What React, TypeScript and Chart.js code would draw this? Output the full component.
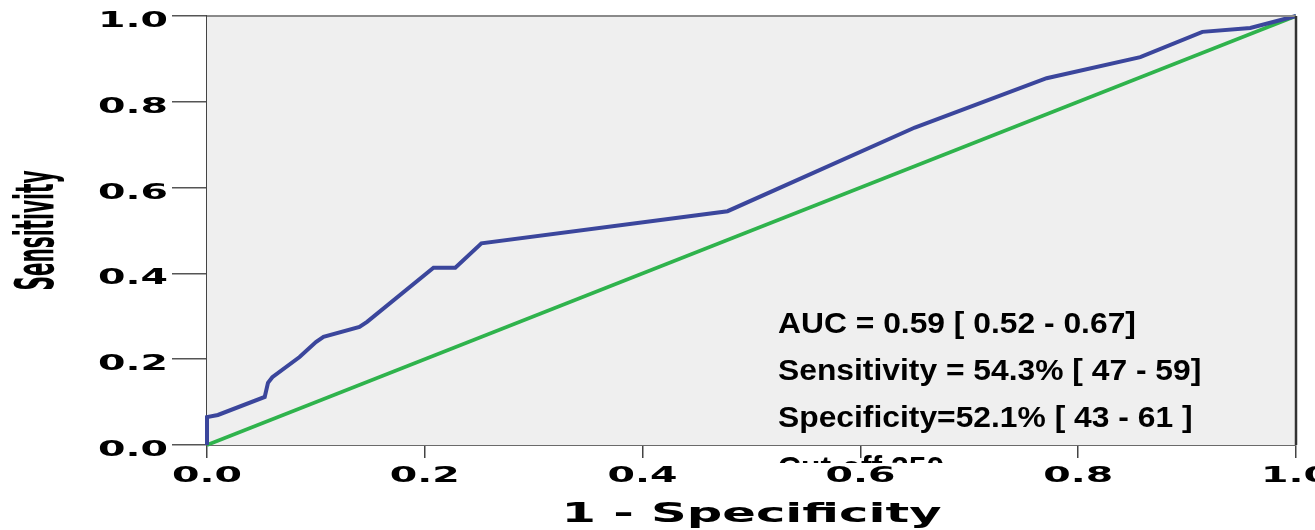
import React, { useEffect, useRef } from 'react';
import { Chart, registerables } from 'chart.js';

Chart.register(...registerables);

// ROC curve (1 - specificity, sensitivity)
const fpr = [0, 0, 0.01, 0.053, 0.056, 0.06, 0.085, 0.1, 0.107, 0.14, 0.147, 0.208, 0.228, 0.252, 0.478, 0.65, 0.771, 0.857, 0.914, 0.958, 1];
const tpr = [0, 0.065, 0.07, 0.112, 0.145, 0.158, 0.205, 0.24, 0.252, 0.275, 0.287, 0.413, 0.413, 0.47, 0.545, 0.74, 0.855, 0.904, 0.963, 0.972, 1];

// Reference (chance) line
const diagX = [0, 1];
const diagY = [0, 1];

const tickValues = [0, 0.2, 0.4, 0.6, 0.8, 1.0];
const tickLabels = ['0.0', '0.2', '0.4', '0.6', '0.8', '1.0'];

const xTitle = '1 - Specificity';
const yTitle = 'Sensitivity';

const statLines = [
  'AUC = 0.59 [ 0.52 - 0.67]',
  'Sensitivity = 54.3% [ 47 - 59]',
  'Specificity=52.1% [ 43 - 61 ]',
  'Cut-off 250',
];

const TICK_FONT = 'bold 22px "DejaVu Sans"';
const TITLE_FONT = 'bold 27px "DejaVu Sans"';
const YTITLE_FONT = 'bold 54px "Liberation Sans Narrow", "DejaVu Sans Condensed", "Liberation Sans"';
const STAT_FONT = 'bold 30px "Liberation Sans", Arial, sans-serif';

function drawStretched(
  ctx: CanvasRenderingContext2D,
  text: string,
  x: number,
  y: number,
  sx: number,
  align: CanvasTextAlign
) {
  ctx.save();
  ctx.translate(x, y);
  ctx.scale(sx, 1);
  ctx.textAlign = align;
  ctx.textBaseline = 'alphabetic';
  ctx.fillText(text, 0, 0);
  ctx.restore();
}

export default function App() {
  const ref = useRef<HTMLCanvasElement>(null);

  useEffect(() => {
    const canvas = ref.current;
    if (!canvas) return;

    const rocPlugin = {
      id: 'rocDecor',
      beforeDatasetsDraw(chart: any) {
        const { ctx, chartArea } = chart;
        ctx.save();
        ctx.fillStyle = '#efefef';
        ctx.fillRect(chartArea.left, chartArea.top, chartArea.right - chartArea.left, chartArea.bottom - chartArea.top);
        ctx.restore();
      },
      afterDraw(chart: any) {
        const { ctx, chartArea } = chart;
        const xs = chart.scales.x;
        const ys = chart.scales.y;

        // frame top & right
        ctx.save();
        ctx.strokeStyle = '#8a8a8a';
        ctx.lineWidth = 2;
        ctx.beginPath();
        ctx.moveTo(chartArea.left, chartArea.top);
        ctx.lineTo(chartArea.right, chartArea.top);
        ctx.stroke();
        ctx.strokeStyle = '#333';
        ctx.lineWidth = 2.5;
        ctx.beginPath();
        ctx.moveTo(chartArea.right, chartArea.top);
        ctx.lineTo(chartArea.right, chartArea.bottom);
        ctx.stroke();
        ctx.restore();

        ctx.save();
        ctx.fillStyle = '#000';

        // statistics text
        ctx.font = STAT_FONT;
        const statX = 778;
        const statBase = [333, 380, 427, 476.5];
        const ssx = 1.06;
        statLines.forEach((t, i) => {
          if (i === 3) {
            ctx.save();
            ctx.beginPath();
            ctx.rect(700, 449, 420, 14);
            ctx.clip();
            drawStretched(ctx, t, statX, statBase[i], ssx, 'left');
            ctx.restore();
          } else {
            drawStretched(ctx, t, statX, statBase[i], ssx, 'left');
          }
        });

        // tick labels
        ctx.font = TICK_FONT;
        const sx = 70 / ctx.measureText('1.0').width;
        tickValues.forEach((v, i) => {
          const py = ys.getPixelForValue(v);
          drawStretched(ctx, tickLabels[i], 168, py + 11, sx, 'right');
          const px = xs.getPixelForValue(v);
          drawStretched(ctx, tickLabels[i], px, 482, sx, 'center');
        });

        // x title
        ctx.font = TITLE_FONT;
        const tsx = 380 / ctx.measureText(xTitle).width;
        drawStretched(ctx, xTitle, (chartArea.left + chartArea.right) / 2, 522, tsx, 'center');

        // y title
        ctx.font = YTITLE_FONT;
        const ysx = 120 / ctx.measureText(yTitle).width;
        ctx.save();
        ctx.translate(53, (chartArea.top + chartArea.bottom) / 2);
        ctx.rotate(-Math.PI / 2);
        ctx.scale(ysx, 1);
        ctx.textAlign = 'center';
        ctx.textBaseline = 'alphabetic';
        ctx.fillText(yTitle, 0, 0);
        ctx.restore();

        ctx.restore();
      },
    };

    const chart = new Chart(canvas, {
      type: 'scatter',
      data: {
        datasets: [
          {
            label: 'ROC',
            data: fpr.map((x, i) => ({ x, y: tpr[i] })),
            showLine: true,
            borderColor: '#3b469c',
            backgroundColor: '#3b469c',
            borderWidth: 4,
            pointRadius: 0,
            tension: 0,
            clip: 8,
            order: 0,
          },
          {
            label: 'Reference',
            data: diagX.map((x, i) => ({ x, y: diagY[i] })),
            showLine: true,
            borderColor: '#2fb34c',
            backgroundColor: '#2fb34c',
            borderWidth: 3.5,
            pointRadius: 0,
            tension: 0,
            clip: 8,
            order: 1,
          },
        ],
      },
      options: {
        animation: false,
        responsive: false,
        maintainAspectRatio: false,
        events: [],
        layout: { padding: { left: 0, right: 19, top: 16, bottom: 0 } },
        plugins: {
          legend: { display: false },
          tooltip: { enabled: false },
        },
        scales: {
          x: {
            type: 'linear',
            position: 'bottom',
            min: 0,
            max: 1,
            ticks: { display: false, stepSize: 0.2 },
            grid: { drawOnChartArea: false, drawTicks: true, tickLength: 13, color: '#444', lineWidth: 1.5 },
            border: { display: true, color: '#6a6a6a', width: 2 },
            afterFit: (s: any) => { s.height = 85; },
          },
          y: {
            type: 'linear',
            min: 0,
            max: 1,
            ticks: { display: false, stepSize: 0.2 },
            grid: { drawOnChartArea: false, drawTicks: true, tickLength: 35, color: '#555', lineWidth: 1.5 },
            border: { display: true, color: '#444', width: 3 },
            afterFit: (s: any) => { s.width = 207; },
          },
        },
      },
      plugins: [rocPlugin],
    } as any);

    return () => chart.destroy();
  }, []);

  return (
    <div style={{ position: 'fixed', left: 0, top: 0, width: 1315, height: 530, background: '#fff' }}>
      <canvas ref={ref} width={1315} height={530} style={{ width: 1315, height: 530, display: 'block' }} />
    </div>
  );
}
